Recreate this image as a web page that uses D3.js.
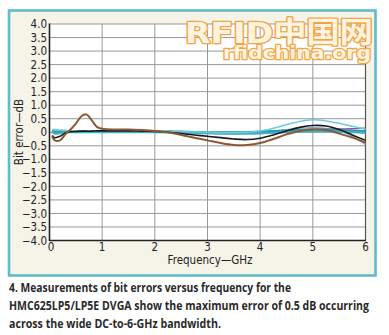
<!DOCTYPE html>
<html><head><meta charset="utf-8">
<script src="https://cdn.jsdelivr.net/npm/d3@7"></script>
<style>
html,body{margin:0;padding:0;background:#fff;}
svg{display:block;}
</style></head>
<body>
<svg id="c" width="389" height="335"></svg>
<script>
// ---- data ----
const freq = [0.05,0.1,0.2,0.3,0.4,0.5,0.6,0.7,0.8,0.9,1.0,1.25,1.5,1.75,2.0,2.25,2.5,2.75,3.0,3.25,3.5,3.75,4.0,4.25,4.5,4.75,5.0,5.25,5.5,5.75,6.0];
const brown     = [-0.15,-0.3,-0.3,-0.08,0.1,0.32,0.58,0.66,0.45,0.2,0.13,0.1,0.1,0.08,0.05,0.0,-0.1,-0.2,-0.3,-0.4,-0.47,-0.47,-0.4,-0.25,-0.08,0.05,0.1,0.08,-0.05,-0.2,-0.38];
const black     = [-0.12,-0.2,-0.15,-0.03,0.02,0.03,0.04,0.04,0.04,0.05,0.05,0.05,0.05,0.04,0.03,0.0,-0.05,-0.1,-0.15,-0.2,-0.25,-0.27,-0.22,-0.1,0.05,0.18,0.25,0.23,0.1,-0.1,-0.3];
const lightCyan = [0.1,0.1,0.08,0.07,0.06,0.06,0.06,0.06,0.06,0.06,0.06,0.06,0.05,0.05,0.05,0.04,0.03,0.01,0.0,-0.02,-0.02,0.0,0.05,0.15,0.28,0.4,0.46,0.42,0.33,0.22,0.12];
const teal      = [0.02,-0.05,-0.03,0.0,0.0,0.0,0.0,0.0,0.0,0.0,0.0,0.0,0.0,0.0,0.0,0.0,0.0,-0.02,-0.03,-0.04,-0.05,-0.05,-0.04,-0.02,0.0,0.02,0.03,0.03,0.02,0.0,-0.02];
const teal2     = [0.06,0.02,0.02,0.03,0.04,0.04,0.04,0.04,0.04,0.04,0.04,0.04,0.04,0.04,0.04,0.03,0.02,0.01,0.0,0.0,0.0,0.0,0.02,0.04,0.06,0.08,0.1,0.1,0.08,0.06,0.04];
const purple    = [0.0,0.0,0.0,0.0,0.0,0.0,0.0,0.0,0.0,0.0,0.0,0.0,0.0,0.0,0.0,-0.01,-0.02,-0.03,-0.04,-0.05,-0.05,-0.03,0.0,0.03,0.06,0.09,0.11,0.12,0.12,0.13,0.15];
const steelBlue = [0.05,0.04,0.04,0.04,0.04,0.04,0.04,0.04,0.04,0.04,0.04,0.03,0.02,0.01,0.0,-0.01,-0.02,-0.04,-0.05,-0.06,-0.06,-0.04,0.0,0.05,0.1,0.15,0.17,0.14,0.05,-0.15,-0.45];
const xTicks = [0,1,2,3,4,5,6];
const xTickLabels = ["0","1","2","3","4","5","6"];
const yTicks = [4,3.5,3,2.5,2,1.5,1,0.5,0,-0.5,-1,-1.5,-2,-2.5,-3,-3.5,-4];
const yTickLabels = ["4.0","3.5","3.0","2.5","2.0","1.5","1.0","0.5","0","\u22120.5","\u22121.0","\u22121.5","\u22122.0","\u22122.5","\u22123.0","\u22123.5","\u22124.0"];
const xTitle = "Frequency\u2014GHz";
const yTitle = "Bit error\u2014dB";
const caption = ["4. Measurements of bit errors versus frequency for the",
                 "HMC625LP5/LP5E DVGA show the maximum error of 0.5 dB occurring",
                 "across the wide DC-to-6-GHz bandwidth."];
const wm1 = "RFID\u4e2d\u56fd\u7f51";
const wm2 = "rfidchina.org";

const series = [
  {v: purple,    c: "#9b4f8e", w: 1.3},
  {v: steelBlue, c: "#7ea4d4", w: 1.3},
  {v: teal2,     c: "#2a97ad", w: 2.2},
  {v: teal,      c: "#3fb1c4", w: 2.2},
  {v: lightCyan, c: "#6ccbe0", w: 1.5},
  {v: black,     c: "#1a1a1a", w: 1.6},
  {v: brown,     c: "#8a5a36", w: 2.0}
];

const svg = d3.select("#c");
const cond = '"Liberation Sans Narrow","DejaVu Sans Condensed","Arial Narrow",sans-serif';

// frame
svg.append("rect").attr("x",9).attr("y",10.5).attr("width",366.5).attr("height",265)
  .attr("fill","#f6f3e9").attr("stroke","#5dbdca").attr("stroke-width",2.6);

const L = 49.5, R = 365.5, T = 24, B = 240.5;
const x = d3.scaleLinear().domain([0,6]).range([L,R]);
const y = d3.scaleLinear().domain([-4,4]).range([B,T]);

const g = svg.append("g");
g.append("rect").attr("x",L).attr("y",T).attr("width",R-L).attr("height",B-T).attr("fill","#fff");

// grid
g.append("g").selectAll("line").data(yTicks).join("line")
  .attr("x1",L).attr("x2",R).attr("y1",d=>y(d)).attr("y2",d=>y(d))
  .attr("stroke","#999").attr("stroke-width",1);
g.append("g").selectAll("line").data(xTicks.slice(1)).join("line")
  .attr("x1",d=>x(d)).attr("x2",d=>x(d)).attr("y1",T).attr("y2",B)
  .attr("stroke","#999").attr("stroke-width",1);
g.append("line").attr("x1",R).attr("x2",R).attr("y1",T).attr("y2",B).attr("stroke","#555").attr("stroke-width",1.2);

// lines
const line = d3.line().x((d,i)=>x(freq[i])).y(d=>y(d)).curve(d3.curveCatmullRom.alpha(0.5));
g.append("g").selectAll("path").data(series).join("path")
  .attr("d",d=>line(d.v)).attr("fill","none")
  .attr("stroke",d=>d.c).attr("stroke-width",d=>d.w).attr("stroke-linejoin","round");

// axes lines
g.append("line").attr("x1",L).attr("x2",L).attr("y1",T-0.5).attr("y2",B+0.5).attr("stroke","#222").attr("stroke-width",1.6);
g.append("line").attr("x1",L).attr("x2",R+0.5).attr("y1",B).attr("y2",B).attr("stroke","#222").attr("stroke-width",1.6);

// tick labels
g.append("g").selectAll("text").data(yTicks).join("text")
  .attr("x",47).attr("y",d=>y(d)).attr("dy","0.36em").attr("text-anchor","end")
  .attr("font-family",cond).attr("font-size",11.5).attr("fill","#222")
  .text((d,i)=>yTickLabels[i]);
g.append("g").selectAll("text").data(xTicks).join("text")
  .attr("x",d=>x(d)+(d===0?1.5:0)).attr("y",250.5).attr("text-anchor","middle")
  .attr("font-family",cond).attr("font-size",11.5).attr("fill","#222")
  .text((d,i)=>xTickLabels[i]);

// titles
svg.append("text").attr("x",210).attr("y",264).attr("text-anchor","middle")
  .attr("font-family",cond).attr("font-size",11.5).attr("fill","#222").text(xTitle);
svg.append("text").attr("transform","translate(23,132) rotate(-90)").attr("text-anchor","middle")
  .attr("font-family",cond).attr("font-size",11.5).attr("fill","#222").text(yTitle);

// watermark
svg.append("text").attr("x",185).attr("y",42.5).attr("textLength",188).attr("lengthAdjust","spacingAndGlyphs")
  .attr("font-family",'"DejaVu Sans","Noto Sans CJK SC",sans-serif').attr("font-weight","bold").attr("font-size",29)
  .attr("fill","#fff4e2").attr("stroke","#f3a443").attr("stroke-width",2.6).attr("paint-order","stroke")
  .attr("stroke-linejoin","round").text(wm1);
svg.append("text").attr("x",223).attr("y",59).attr("textLength",148).attr("lengthAdjust","spacingAndGlyphs")
  .attr("font-family",'"DejaVu Sans",sans-serif').attr("font-weight","bold").attr("font-size",18)
  .attr("fill","#fff4e2").attr("stroke","#f3a443").attr("stroke-width",2.4).attr("paint-order","stroke")
  .attr("stroke-linejoin","round").text(wm2);

// caption
const capW = [282, 360, 212];
const capY = [291.5, 309.5, 327.5];
svg.append("g").selectAll("text").data(caption).join("text")
  .attr("x",9).attr("y",(d,i)=>capY[i]).attr("textLength",(d,i)=>capW[i]).attr("lengthAdjust","spacingAndGlyphs")
  .attr("font-family",'"Open Sans","Lato",sans-serif').attr("font-weight",700).attr("font-size",11.5)
  .attr("fill","#2a2a2a").text(d=>d);
</script>
</body></html>
